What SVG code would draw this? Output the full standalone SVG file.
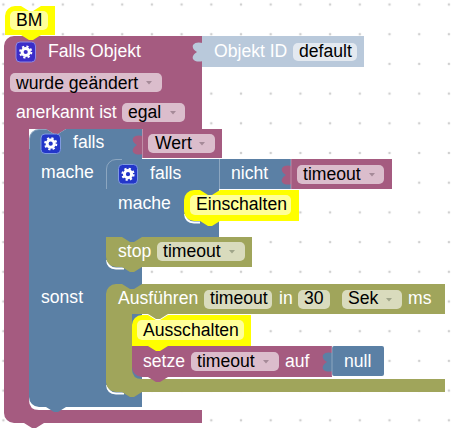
<svg xmlns="http://www.w3.org/2000/svg" xmlns:xlink="http://www.w3.org/1999/xlink" width="454" height="434" viewBox="0 0 454 434">
<style>
text{font-family:"Liberation Sans",Arial,sans-serif;font-size:17.6px;fill:#fff}
text.d{fill:#000}
.pink{fill:#a55b80}.blue{fill:#5b80a5}.olive{fill:#a0a55b}.yellow{fill:#ff0}.ice{fill:#b9c9db}
.fp{fill:#dbbdcc}.fo{fill:#d9dbbd}.fy{fill:#ffff99}.fi{fill:#e3e9f0}
.ap{fill:#a58a98}.ao{fill:#a0a58a}
.cr{fill:none;stroke:#fff;stroke-width:2}
.hl{fill:none;stroke:#fff;stroke-opacity:.3;stroke-width:1}
</style>
<defs>
<pattern id="grid" patternUnits="userSpaceOnUse" x="-11.45" y="-10.35" width="29.7" height="29.7">
<circle cx="14.85" cy="14.85" r="1.3" fill="#d0d0d0"/>
</pattern>
<path id="tab" d="M1,7 C-3,6 -7,6 -9,9 C-10,12 -8,14 -5,16 C-8,18 -10,20 -9,23 C-7,26 -3,26 1,25 Z"/>
<g id="gear">
<circle cx="10" cy="10" r="3.6" fill="none" stroke="#fff" stroke-width="3"/>
<circle cx="10" cy="10" r="5.6" fill="none" stroke="#fff" stroke-width="2" stroke-dasharray="2.2 2.2"/>
</g>
<polygon id="arr" points="-3,0 3,0 0,3.5"/>
</defs>
<rect width="454" height="434" fill="#fff"/>
<rect width="454" height="434" fill="url(#grid)"/>

<g id="falls-objekt">
<path class="pink" d="M4,46 a10,10 0 0 1 10,-10 H202 V129 H66 l-8,5 h-4 l-8,-5 H29 V400 Q29,410 39,410 H202 V423 H44 l-8,5 h-4 l-8,-5 H14 a10,10 0 0 1 -10,-10 Z"/>
<rect x="16" y="42" width="19.5" height="20" rx="4" fill="#3b2dc8" stroke="#8f88e0"/>
<use xlink:href="#gear" href="#gear" x="15.7" y="42"/>
<text x="48" y="57">Falls Objekt</text>
<rect class="fp" x="10" y="73" width="152" height="19" rx="5"/>
<text class="d" x="16" y="88.5">wurde geändert</text>
<use class="ap" xlink:href="#arr" href="#arr" x="149" y="81"/>
<text x="16" y="118">anerkannt ist</text>
<rect class="fp" x="122" y="103" width="63" height="19" rx="5"/>
<text class="d" x="128" y="118">egal</text>
<use class="ap" xlink:href="#arr" href="#arr" x="173" y="111"/>
</g>

<g id="objekt-id">
<rect class="ice" x="202" y="36" width="162" height="31"/>
<text x="214" y="57">Objekt ID</text>
<rect class="fi" x="293" y="43" width="64" height="18" rx="5"/>
<text class="d" x="299" y="57">default</text>
</g>

<g id="falls-outer">
<path class="blue" d="M29,139 a10,10 0 0 1 10,-10 H46 l8,5 h4 l8,-5 H142 V407 H66 l-8,5 h-4 l-8,-5 H39 a10,10 0 0 1 -10,-10 Z"/>
<path class="hl" d="M29.5,149 V139 a9.5,9.5 0 0 1 9.5,-9.5 H46"/>
<rect x="41" y="134" width="19.5" height="19.5" rx="4" fill="#2336c9" stroke="#7f9ae0"/>
<use xlink:href="#gear" href="#gear" x="40.7" y="133.7"/>
<text x="73" y="148">falls</text>
<text x="41" y="178">mache</text>
<text x="41" y="303">sonst</text>
</g>

<g id="wert">
<rect class="pink" x="142" y="129" width="80" height="29"/>
<rect class="fp" x="148" y="134" width="67" height="19" rx="5"/>
<text class="d" x="155" y="148.5">Wert</text>
<use class="ap" xlink:href="#arr" href="#arr" x="202" y="142"/>
</g>

<g id="falls-inner">
<path class="blue" d="M106,169 a10,10 0 0 1 10,-10 H122 l8,5 h4 l8,-5 H219 V237 H106 Z"/>
<path class="hl" d="M106.5,189 V169 a9.5,9.5 0 0 1 9.5,-9.5 H122"/>
<rect x="118.500" y="164.500" width="19" height="19.500" rx="4" fill="#2336c9" stroke="#7f9ae0"/>
<use xlink:href="#gear" href="#gear" x="118" y="164.200"/>
<text x="150" y="179">falls</text>
<text x="118" y="209">mache</text>
</g>

<g id="nicht">
<rect class="blue" x="219" y="159" width="72" height="30"/>
<text x="231" y="179">nicht</text>
</g>

<g id="timeout-wert">
<rect class="pink" x="291" y="159" width="101" height="30"/>
<rect class="fp" x="297" y="165" width="87" height="19" rx="5"/>
<text class="d" x="303" y="179.500">timeout</text>
<use class="ap" xlink:href="#arr" href="#arr" x="372" y="173"/>
</g>

<g id="einschalten">
<path class="cr" d="M185,214 Q185.500,222 194,222.500 H200"/>
<path class="yellow" d="M184,200 a10,10 0 0 1 10,-10 H200 l8,5 h4 l8,-5 H299 V221 H220 l-8,5 h-4 l-8,-5 H194 a10,10 0 0 1 -10,-10 Z"/>
<rect class="fy" x="190" y="195" width="101" height="20" rx="5"/>
<text class="d" x="196" y="210">Einschalten</text>
</g>

<g id="stop">
<path class="cr" d="M107,260 Q107.500,268 116,268.500 H124"/>
<path class="olive" d="M106,237 H122 l8,5 h4 l8,-5 H252 V267 H142 l-8,5 h-4 l-8,-5 H116 a10,10 0 0 1 -10,-10 Z"/>
<text x="118" y="257">stop</text>
<rect class="fo" x="157" y="242" width="88" height="19" rx="5"/>
<text class="d" x="163" y="257">timeout</text>
<use class="ao" xlink:href="#arr" href="#arr" x="232" y="250"/>
</g>

<g id="ausfuehren">
<path class="cr" d="M107,385 Q107.500,393 116,393.500 H124"/>
<path class="olive" d="M106,294 a10,10 0 0 1 10,-10 H122 l8,5 h4 l8,-5 H445 V314 H168 l-8,5 h-4 l-8,-5 H132 V369 Q132,379 142,379 H445 V392 H142 l-8,5 h-4 l-8,-5 H116 a10,10 0 0 1 -10,-10 Z"/>
<text x="118" y="304">Ausführen</text>
<rect class="fo" x="204" y="290" width="68" height="19" rx="5"/>
<text class="d" x="210" y="304">timeout</text>
<text x="279" y="304">in</text>
<rect class="fo" x="298" y="290" width="32" height="19" rx="5"/>
<text class="d" x="304" y="304">30</text>
<rect class="fo" x="342" y="290" width="60" height="19" rx="5"/>
<text class="d" x="348" y="304">Sek</text>
<use class="ao" xlink:href="#arr" href="#arr" x="389" y="298"/>
<text x="408" y="304">ms</text>
</g>

<g id="setze">
<path class="pink" d="M132,346 H332 V377 H168 l-8,5 h-4 l-8,-5 H142 a10,10 0 0 1 -10,-10 Z"/>
<text x="143" y="367">setze</text>
<rect class="fp" x="191" y="352" width="88" height="19" rx="5"/>
<text class="d" x="197" y="367">timeout</text>
<use class="ap" xlink:href="#arr" href="#arr" x="266" y="360"/>
<text x="285" y="367">auf</text>
</g>

<g id="null">
<rect class="blue" x="332" y="346" width="52" height="30" rx="2"/>
<text x="344" y="367">null</text>
</g>

<g id="ausschalten">
<path class="yellow" d="M132,325 a10,10 0 0 1 10,-10 H148 l8,5 h4 l8,-5 H251 V346 H168 l-8,5 h-4 l-8,-5 H132 Z"/>
<rect class="fy" x="137" y="320" width="107" height="20" rx="5"/>
<text class="d" x="143" y="336">Ausschalten</text>
</g>

<g id="comment-bm">
<path class="yellow" d="M5,16 a10,10 0 0 1 10,-10 H21 l8,5 h4 l8,-5 H55 V35 H41 l-8,5 h-4 l-8,-5 H5 Z"/>
<rect class="fy" x="10" y="11" width="38" height="19" rx="5"/>
<text class="d" x="16" y="26">BM</text>
</g>

<g id="connectors">
<use class="ice" xlink:href="#tab" href="#tab" x="202" y="36"/>
<use class="pink" xlink:href="#tab" href="#tab" x="142" y="129"/>
<use class="blue" xlink:href="#tab" href="#tab" x="219" y="159"/>
<use class="pink" xlink:href="#tab" href="#tab" x="291" y="159"/>
<use class="blue" xlink:href="#tab" href="#tab" x="332" y="346"/>
<path class="hl" d="M142.500,129 V158 M219.500,159 V189 M291,159 V189 M332,346 V376"/>
</g>
</svg>
